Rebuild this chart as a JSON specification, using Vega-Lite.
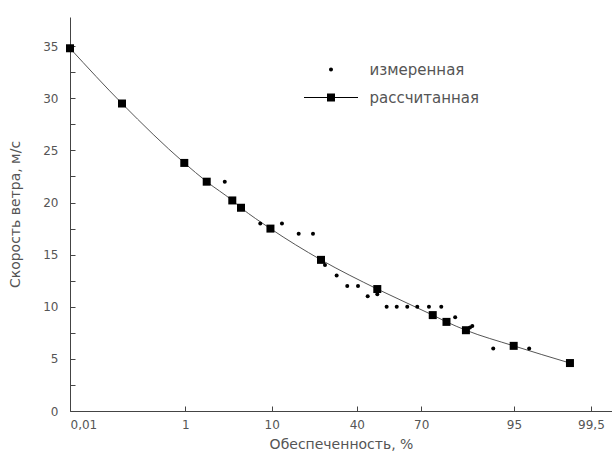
{
  "$schema": "https://vega.github.io/schema/vega-lite/v6.json",
  "width": 542,
  "height": 394,
  "autosize": {"type": "none"},
  "padding": {"left": 70, "top": 17, "right": 0, "bottom": 50},
  "background": "white",
  "config": {
    "view": {"stroke": null},
    "font": "DejaVu Sans",
    "axis": {
      "grid": false,
      "domainColor": "#444",
      "tickColor": "#444",
      "labelColor": "#555",
      "titleColor": "#555",
      "labelFont": "DejaVu Sans",
      "titleFont": "DejaVu Sans",
      "labelFontSize": 12,
      "titleFontSize": 14,
      "titleFontWeight": "normal",
      "tickSize": -5
    }
  },
  "data": {
    "values": [
      {"series": "рассчитанная", "z": -3.719, "v": 34.8},
      {"series": "рассчитанная", "z": -3.091, "v": 29.5},
      {"series": "рассчитанная", "z": -2.338, "v": 23.8},
      {"series": "рассчитанная", "z": -2.067, "v": 22.0},
      {"series": "рассчитанная", "z": -1.758, "v": 20.2},
      {"series": "рассчитанная", "z": -1.653, "v": 19.5},
      {"series": "рассчитанная", "z": -1.297, "v": 17.5},
      {"series": "рассчитанная", "z": -0.686, "v": 14.5},
      {"series": "рассчитанная", "z": -0.006, "v": 11.7},
      {"series": "рассчитанная", "z": 0.664, "v": 9.2},
      {"series": "рассчитанная", "z": 0.83, "v": 8.55},
      {"series": "рассчитанная", "z": 1.065, "v": 7.75},
      {"series": "рассчитанная", "z": 1.642, "v": 6.25},
      {"series": "рассчитанная", "z": 2.322, "v": 4.6},
      {"series": "измеренная", "z": -1.849, "v": 22},
      {"series": "измеренная", "z": -1.42, "v": 18},
      {"series": "измеренная", "z": -1.158, "v": 18},
      {"series": "измеренная", "z": -0.956, "v": 17},
      {"series": "измеренная", "z": -0.783, "v": 17},
      {"series": "измеренная", "z": -0.638, "v": 14},
      {"series": "измеренная", "z": -0.497, "v": 13},
      {"series": "измеренная", "z": -0.369, "v": 12},
      {"series": "измеренная", "z": -0.239, "v": 12},
      {"series": "измеренная", "z": -0.122, "v": 11},
      {"series": "измеренная", "z": -0.006, "v": 11.2},
      {"series": "измеренная", "z": 0.107, "v": 10},
      {"series": "измеренная", "z": 0.229, "v": 10},
      {"series": "измеренная", "z": 0.356, "v": 10},
      {"series": "измеренная", "z": 0.477, "v": 10},
      {"series": "измеренная", "z": 0.618, "v": 10},
      {"series": "измеренная", "z": 0.767, "v": 10},
      {"series": "измеренная", "z": 0.935, "v": 9},
      {"series": "измеренная", "z": 1.114, "v": 8},
      {"series": "измеренная", "z": 1.142, "v": 8.15},
      {"series": "измеренная", "z": 1.395, "v": 6},
      {"series": "измеренная", "z": 1.829, "v": 6}
    ]
  },
  "encoding": {
    "x": {
      "field": "z",
      "type": "quantitative",
      "scale": {"domain": [-3.719, 2.83], "nice": false, "zero": false},
      "axis": {
        "title": "Обеспеченность, %",
        "values": [-3.719, -2.326, -1.2816, -0.2533, 0.5244, 1.6449, 2.5758],
        "labelExpr": "datum.value < -3 ? '0,01' : datum.value < -2 ? '1' : datum.value < -1 ? '10' : datum.value < 0 ? '40' : datum.value < 1 ? '70' : datum.value < 2 ? '95' : '99,5'",
        "labelPadding": 13,
        "titlePadding": 7
      }
    },
    "y": {
      "field": "v",
      "type": "quantitative",
      "scale": {"domain": [0, 37.8], "nice": false},
      "axis": {
        "title": "Скорость ветра, м/с",
        "values": [0, 2.5, 5, 7.5, 10, 12.5, 15, 17.5, 20, 22.5, 25, 27.5, 30, 32.5, 35],
        "labelExpr": "datum.value % 5 === 0 ? datum.label : ''",
        "labelPadding": 17,
        "titlePadding": 20
      }
    }
  },
  "layer": [
    {
      "transform": [{"filter": "datum.series === 'рассчитанная'"}],
      "mark": {"type": "line", "interpolate": "monotone", "color": "#555", "strokeWidth": 1}
    },
    {
      "transform": [{"filter": "datum.series === 'измеренная'"}],
      "mark": {"type": "point", "filled": true, "color": "#000", "opacity": 1, "size": 16, "shape": "circle"}
    },
    {
      "transform": [{"filter": "datum.series === 'рассчитанная'"}],
      "mark": {"type": "point", "filled": true, "color": "#000", "opacity": 1, "size": 64, "shape": "square"}
    },
    {
      "transform": [{"filter": "false"}],
      "mark": {"type": "point", "filled": true, "color": "#000", "opacity": 1, "size": 729},
      "encoding": {
        "shape": {
          "field": "series",
          "type": "nominal",
          "scale": {
            "domain": ["измеренная", "рассчитанная"],
            "range": [
              "M-0.148,0A0.148,0.148,0,1,0,0.148,0A0.148,0.148,0,1,0,-0.148,0Z",
              "M-2,-0.04H2V0.04H-2ZM-0.296,-0.296H0.296V0.296H-0.296Z"
            ]
          },
          "legend": {
            "title": null,
            "orient": "none",
            "legendX": 246.5,
            "legendY": 38,
            "symbolSize": 729,
            "symbolFillColor": "#000",
            "symbolOpacity": 1,
            "labelFontSize": 15,
            "labelColor": "#555",
            "labelFont": "DejaVu Sans",
            "labelOffset": 24,
            "rowPadding": 5,
            "padding": 0
          }
        }
      }
    }
  ]
}
